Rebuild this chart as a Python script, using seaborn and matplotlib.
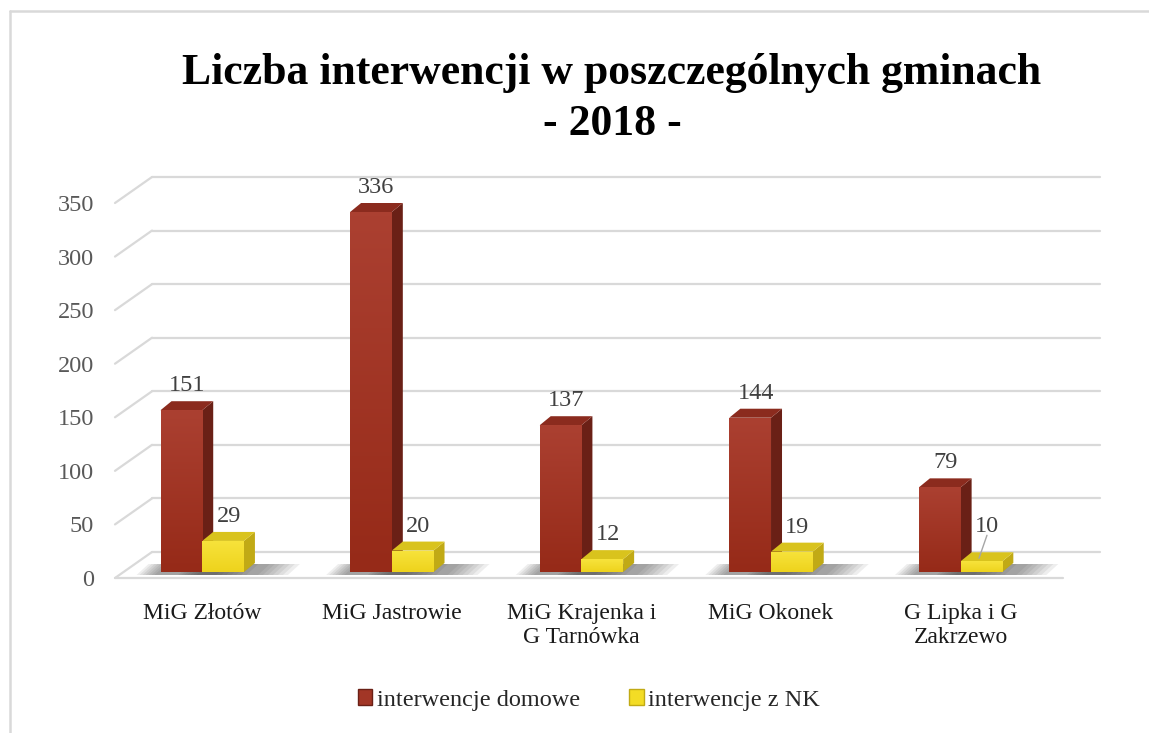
import numpy as np
import pandas as pd
import seaborn as sns
import matplotlib.pyplot as plt
from matplotlib import transforms
from matplotlib.colors import LinearSegmentedColormap
from matplotlib.patches import Polygon, Rectangle
from matplotlib.lines import Line2D

# dane
gminy = ["MiG Złotów", "MiG Jastrowie", "MiG Krajenka i\nG Tarnówka", "MiG Okonek", "G Lipka i G\nZakrzewo"]
domowe = [151, 336, 137, 144, 79]
nk = [29, 20, 12, 19, 10]
serie = ["interwencje domowe", "interwencje z NK"]
y_ticks = [0, 50, 100, 150, 200, 250, 300, 350]

df = pd.DataFrame({
    "gmina": gminy * 2,
    "liczba": domowe + nk,
    "seria": [serie[0]] * len(gminy) + [serie[1]] * len(gminy),
})

sns.set_theme(style="white")
plt.rcParams["font.family"] = ["Liberation Serif", "DejaVu Serif"]

front = {serie[0]: "#a23626", serie[1]: "#f3dc25"}
grad = {serie[0]: ("#962a18", "#ab4031"), serie[1]: ("#eed31c", "#f7e33c")}
side = {serie[0]: "#6a2016", serie[1]: "#c1aa15"}
top = {serie[0]: "#8b2b1e", serie[1]: "#d9c31d"}

W, H = 1149, 733
fig = plt.figure(figsize=(W / 100, H / 100), dpi=100)
ax = fig.add_axes([115 / W, 155 / H, 948 / W, 375 / H])

sns.barplot(data=df, x="gmina", y="liczba", hue="seria", palette=front,
            width=0.44, saturation=1, ax=ax, legend=False, zorder=3,
            linewidth=0, edgecolor="none")
ax.set_xlim(-0.46, 4.54)
ax.set_ylim(0, 350)
ax.set_yticks(y_ticks)
ax.set_xlabel("")
ax.set_ylabel("")
for s in ax.spines.values():
    s.set_visible(False)
ax.tick_params(axis="y", length=0, pad=15, labelsize=17.5, labelcolor="#595959")
ax.tick_params(axis="x", length=0, pad=18, labelsize=17, labelcolor="#1a1a1a")

# siatka w perspektywie
DX, DY = 37, 26
ident = transforms.IdentityTransform()
back = transforms.offset_copy(ax.transData, fig=fig, x=DX, y=DY, units="dots")
x0, x1 = ax.get_xlim()
grid_c = "#d9d9d9"
for v in y_ticks:
    ax.plot([x0, x1], [v, v], transform=back, color=grid_c, lw=1.6, clip_on=False, zorder=1)
    px, py = ax.transData.transform((x0, v))
    ax.add_line(Line2D([px, px + DX], [py, py + DY], transform=ident, color=grid_c,
                       lw=1.6, zorder=1, clip_on=False))
ax.plot([x0, x1], [0, 0], color=grid_c, lw=1.6, clip_on=False, zorder=2)

# słupki 3D
lift = 6
dx, dy = 11, 9
bar_tr = transforms.offset_copy(ax.transData, fig=fig, x=0, y=lift, units="dots")
ramp = np.linspace(0, 1, 64).reshape(-1, 1)
for cont, seria in zip(ax.containers, serie):
    cmap = LinearSegmentedColormap.from_list(seria, grad[seria])
    for p in cont:
        p.set_transform(bar_tr)
        x, w, h = p.get_x(), p.get_width(), p.get_height()
        img = ax.imshow(ramp, cmap=cmap, origin="lower", aspect="auto",
                        extent=(x, x + w, 0, h), zorder=3.2, interpolation="bilinear")
        img.set_transform(bar_tr)
        img.set_clip_path(p)
        (lx, by), (rx, ty) = ax.transData.transform([(x, 0), (x + w, h)])
        by += lift
        ty += lift
        # cień na podłodze
        for k in range(7):
            sh = Polygon([(lx - 24 + k * 3, by - 3), (rx + 44 - k * 5, by - 3),
                          (rx + 56 - k * 5, by + 8), (lx - 12 + k * 3, by + 8)],
                         closed=True, transform=ident, facecolor="#303030",
                         edgecolor="none", alpha=0.08, zorder=2, clip_on=False)
            ax.add_patch(sh)
        ax.add_patch(Polygon([(rx, by), (rx + dx, by + dy), (rx + dx, ty + dy), (rx, ty)],
                             closed=True, transform=ident, facecolor=side[seria],
                             edgecolor="none", zorder=3, clip_on=False))
        ax.add_patch(Polygon([(lx, ty), (rx, ty), (rx + dx, ty + dy), (lx + dx, ty + dy)],
                             closed=True, transform=ident, facecolor=top[seria],
                             edgecolor="none", zorder=3, clip_on=False))
        # etykieta wartości
        extra = 10 if h <= 10 else 0
        cx = (lx + rx) / 2 + dx / 2
        ty_lab = ty + dy + 5 + extra
        ax.text(cx, ty_lab, f"{h:.0f}", transform=ident, ha="center", va="bottom",
                fontsize=17.5, color="#404040", zorder=5)
        if extra:
            ax.add_line(Line2D([cx, cx - 8], [ty_lab + 2, ty + dy - 6], transform=ident,
                               color="#a6a6a6", lw=1, zorder=5, clip_on=False))

ax.set_xlim(x0, x1)
ax.set_ylim(0, 350)

# tytuł
fig.text(612 / W, 1 - 84 / H, "Liczba interwencji w poszczególnych gminach",
         ha="center", va="baseline", fontsize=31.5, fontweight="bold", color="black")
fig.text(612 / W, 1 - 135 / H, "- 2018 -",
         ha="center", va="baseline", fontsize=31.5, fontweight="bold", color="black")

# legenda
handles = [Rectangle((0, 0), 1, 1, facecolor=front[s], edgecolor=side[s], lw=1) for s in serie]
fig.legend(handles, serie, loc="center", bbox_to_anchor=(589 / W, 1 - 700 / H), ncol=2,
           frameon=False, fontsize=17.5, handlelength=0.6, handleheight=0.6,
           handletextpad=0.2, columnspacing=2.0)

# ramka wykresu
fig.add_artist(Line2D([10 / W, 10 / W], [0, 1 - 11 / H], color="#d9d9d9", lw=1.8))
fig.add_artist(Line2D([10 / W, 1], [1 - 11 / H, 1 - 11 / H], color="#d9d9d9", lw=1.8))

fig.savefig("out.png", dpi=100)
